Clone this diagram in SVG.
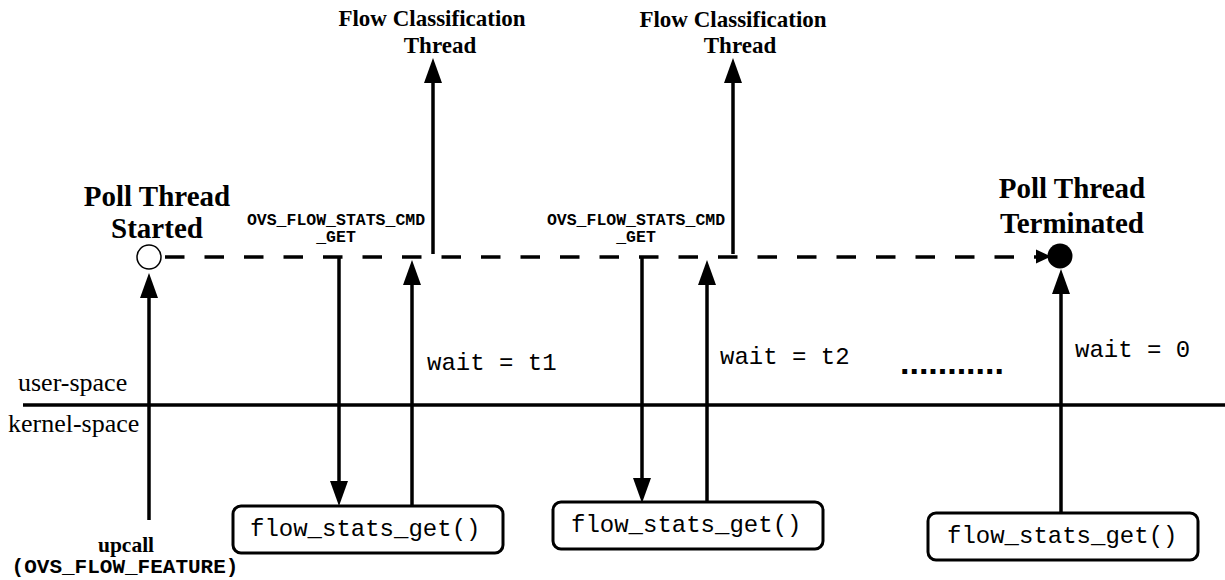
<svg xmlns="http://www.w3.org/2000/svg" width="1225" height="580" viewBox="0 0 1225 580">
<style>
.ln{stroke:#000;stroke-width:3.5;fill:none}
.dash{stroke:#000;stroke-width:3.5;fill:none;stroke-dasharray:19.5 20}
.box{fill:#fff;stroke:#000;stroke-width:3}
.ttl{font-family:"Liberation Serif",serif;font-weight:bold;font-size:29px;text-anchor:middle}
.fc{font-family:"Liberation Serif",serif;font-weight:bold;font-size:23px;text-anchor:middle}
.cmd{font-family:"Liberation Mono",monospace;font-weight:bold;font-size:16.5px;text-anchor:middle}
.mono{font-family:"Liberation Mono",monospace;font-size:24px}
.sp{font-family:"Liberation Serif",serif;font-size:26px}
</style>
<defs>
<marker id="ah" markerUnits="userSpaceOnUse" markerWidth="26" markerHeight="18" refX="15" refY="9" orient="auto">
<path d="M0,0 L25,9 L0,18 z" fill="#000"/>
</marker>
</defs>
<g id="space-divider">
<line x1="23" y1="405" x2="1225" y2="405" class="ln"/>
<text x="18" y="391" class="sp">user-space</text>
<text x="8" y="432" class="sp">kernel-space</text>
</g>
<g id="connectors">
<line x1="165" y1="257" x2="1040" y2="257" class="dash"/>
<path d="M1036,249.5 L1051,256.5 L1036,263.5 z" fill="#000"/>
<line x1="149" y1="520" x2="149" y2="283" class="ln" marker-end="url(#ah)"/>
<line x1="339" y1="257" x2="339" y2="496" class="ln" marker-end="url(#ah)"/>
<line x1="412" y1="506" x2="412" y2="270" class="ln" marker-end="url(#ah)"/>
<line x1="433" y1="254" x2="433" y2="68" class="ln" marker-end="url(#ah)"/>
<line x1="642" y1="257" x2="642" y2="493" class="ln" marker-end="url(#ah)"/>
<line x1="707" y1="503" x2="707" y2="270" class="ln" marker-end="url(#ah)"/>
<line x1="733" y1="254" x2="733" y2="68" class="ln" marker-end="url(#ah)"/>
<line x1="1061" y1="513" x2="1061" y2="279" class="ln" marker-end="url(#ah)"/>
</g>
<g id="poll-start">
<circle cx="149" cy="257" r="12" fill="#fff" stroke="#000" stroke-width="1.5"/>
<text x="157" y="206" class="ttl">Poll Thread</text>
<text x="157" y="238" class="ttl">Started</text>
</g>
<g id="poll-end">
<circle cx="1060" cy="256" r="12.5" fill="#000"/>
<text x="1072" y="198" class="ttl">Poll Thread</text>
<text x="1072" y="233" class="ttl">Terminated</text>
</g>
<g id="fc1">
<text x="432" y="26" class="fc">Flow Classification</text>
<text x="440" y="53" class="fc">Thread</text>
</g>
<g id="fc2">
<text x="733" y="27" class="fc">Flow Classification</text>
<text x="740" y="53" class="fc">Thread</text>
</g>
<g id="cmd1">
<text x="336" y="225" class="cmd">OVS_FLOW_STATS_CMD</text>
<text x="336" y="242" class="cmd">_GET</text>
</g>
<g id="cmd2">
<text x="636" y="225" class="cmd">OVS_FLOW_STATS_CMD</text>
<text x="636" y="242" class="cmd">_GET</text>
</g>
<g id="wait1"><text x="427" y="370" class="mono">wait = t1</text></g>
<g id="wait2"><text x="720" y="364" class="mono">wait = t2</text></g>
<g id="wait0"><text x="1075" y="357" class="mono">wait = 0</text></g>
<g id="ellipsis"><text x="900" y="374" font-family="Liberation Sans,sans-serif" font-weight="bold" font-size="34">...........</text></g>
<g id="upcall">
<text x="126" y="552" class="fc" style="font-size:21.5px">upcall</text>
<text x="125" y="573" class="cmd" style="font-size:21px">(OVS_FLOW_FEATURE)</text>
</g>
<g id="box1">
<rect x="233" y="506" width="270" height="47" rx="8" class="box"/>
<text x="250" y="536" class="mono">flow_stats_get()</text>
</g>
<g id="box2">
<rect x="553" y="502" width="270" height="47" rx="8" class="box"/>
<text x="571" y="532" class="mono">flow_stats_get()</text>
</g>
<g id="box3">
<rect x="928" y="513" width="270" height="47" rx="8" class="box"/>
<text x="947" y="543" class="mono">flow_stats_get()</text>
</g>
</svg>
